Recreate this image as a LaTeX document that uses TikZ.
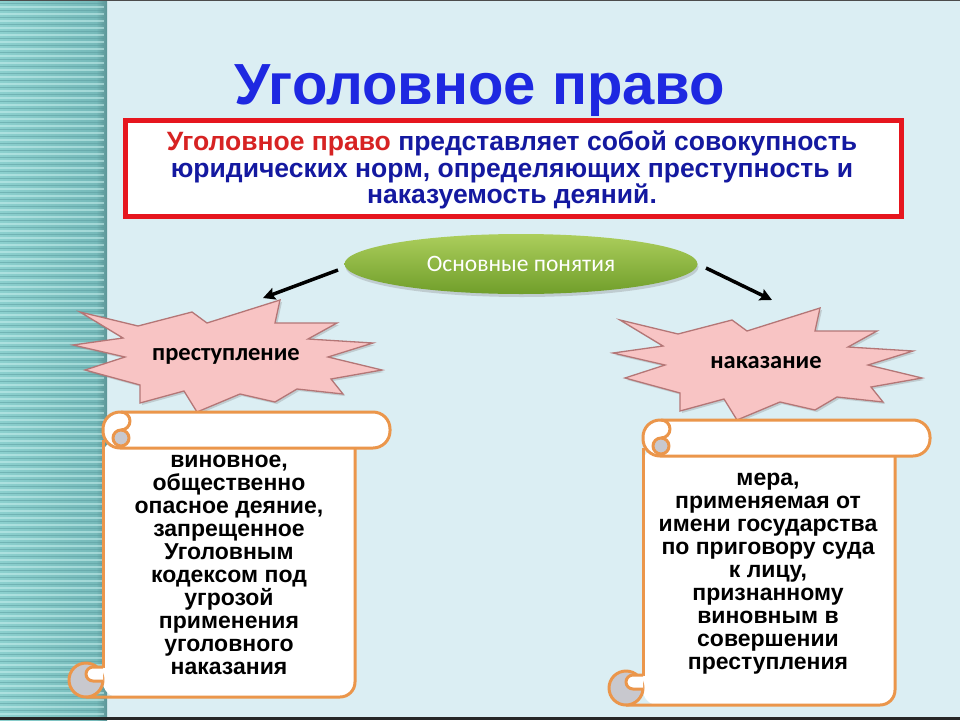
\documentclass[tikz,border=0pt]{standalone}
\usepackage{fontspec}
\setmainfont{Liberation Sans}
\newfontfamily\calfont{Carlito}
\usetikzlibrary{shapes.geometric,arrows.meta,shadows}
\definecolor{bgc}{RGB}{219,238,243}
\definecolor{stripL}{RGB}{140,208,206}
\definecolor{stripR}{RGB}{118,186,186}
\definecolor{stripD}{RGB}{92,148,150}
\definecolor{stripHi}{RGB}{200,240,238}
\definecolor{stripLo}{RGB}{90,155,158}
\definecolor{titleblue}{RGB}{30,40,225}
\definecolor{boxred}{RGB}{230,22,30}
\definecolor{txtred}{RGB}{215,35,35}
\definecolor{txtnavy}{RGB}{20,25,160}
\definecolor{starfill}{RGB}{248,196,196}
\definecolor{starline}{RGB}{180,118,118}
\definecolor{scrollor}{RGB}{235,150,75}
\definecolor{curlgray}{RGB}{200,200,206}
\definecolor{elltop}{RGB}{172,206,92}
\definecolor{ellbot}{RGB}{112,158,42}
\tikzset{
  scrl/.style={draw=scrollor, line width=3pt, line join=round},
  starshape/.style={fill=starfill, draw=starline, line width=1.3pt, line join=miter,
    drop shadow={shadow xshift=2pt, shadow yshift=-2pt, opacity=0.3}},
  arr/.style={line width=3.5pt, -{Stealth[length=12pt,width=12pt,inset=2pt]}},
  scrolltext/.style={align=center, font=\fontsize{23}{23}\bfseries\selectfont},
  startext/.style={font=\calfont\fontsize{24.5}{26}\bfseries\selectfont},
}
\begin{document}
\begin{tikzpicture}[x=1pt,y=1pt]
\useasboundingbox (0,0) rectangle (960,-720);
% background
\fill[bgc] (0,0) rectangle (960,-720);
% left strip
\shade[left color=stripL, right color=stripR] (0,0) rectangle (96,-720);
\shade[left color=stripR, right color=stripD] (96,0) rectangle (107,-720);
\foreach \y in {0,7,...,714} {
  \draw[stripHi, line width=1.3pt, opacity=0.55] (0,-\y) -- (104,-\y);
  \draw[stripLo, line width=0.9pt, opacity=0.5] (0,-\y-3.5) -- (104,-\y-3.5);
}
% frame lines
\fill[black!85] (0,-717) rectangle (960,-720);
\fill[black!70] (0,0) rectangle (960,-1);

% title
\node[text=titleblue, font=\fontsize{58}{62}\bfseries\selectfont] (title) at (480,-91) {Уголовное право};

% definition box
\draw[boxred, line width=5pt, fill=white] (125,-120) rectangle (901,-216);
\node[align=center, text=txtnavy, font=\fontsize{26.5}{26.5}\bfseries\selectfont] (def) at (512,-170)
  {\textcolor{txtred}{Уголовное право} представляет собой совокупность\\
   юридических норм, определяющих преступность и\\
   наказуемость деяний.};

% ellipse
\node[ellipse, minimum width=353pt, minimum height=60pt, inner sep=0pt,
      top color=elltop, bottom color=ellbot,
      drop shadow={shadow xshift=1pt, shadow yshift=-3pt, opacity=0.3},
      text=white, font=\calfont\fontsize{23.5}{26}\selectfont] (main) at (521,-264) {Основные понятия};

% arrows
\coordinate (aL1) at (338,-270);
\coordinate (aL2) at (263,-298);
\coordinate (aR1) at (706,-268);
\coordinate (aR2) at (772,-300);
\draw[arr] (aL1) -- (aL2);
\draw[arr] (aR1) -- (aR2);

% stars
\foreach \dx/\dy in {0/0,540/-8} {
\begin{scope}[shift={(\dx,\dy)}]
\draw[starshape] (80,-312) -- (138,-326) -- (192,-312) -- (207,-323) -- (280,-300) -- (275,-323)
  -- (337,-323) -- (308,-339) -- (373,-343) -- (328,-357) -- (382,-370) -- (331,-379)
  -- (343,-394) -- (297,-389) -- (275,-402) -- (240,-394) -- (197,-412) -- (184,-391)
  -- (140,-403) -- (140,-385) -- (85,-370) -- (125,-357) -- (73,-345) -- (123,-338) -- cycle;
\end{scope}
}
\node[startext] (crime) at (226,-356) {преступление};
\node[startext] (punish) at (766,-363) {наказание};

% scrolls
\foreach \dx/\dy in {0/0,540/-8} {
\begin{scope}[shift={(\dx,\dy)}]
 \fill[white, rounded corners=15] (103,-440) -- (103,-697) -- (355,-697) -- (355,-440) -- cycle;
 \draw[scrl, rounded corners=15] (355,-440) -- (355,-697) -- (86,-697);
 \draw[scrl] (103,-440) -- (103,-668);
 \draw[scrl, fill=white, rounded corners=17] (103,-412) rectangle (390,-448);
 \draw[scrl, fill=curlgray] (121,-438) circle (8);
 \draw[scrl] (121,-412) arc (90:-90:9);
 \draw[scrl, fill=curlgray] (86,-680) circle (17);
 \draw[scrl, fill=white] (103,-667) -- (93,-667) arc (90:270:7) -- (103,-681);
\end{scope}
}
\node[scrolltext] (crimetext) at (229,-564.5)
  {виновное,\\ общественно\\ опасное деяние,\\ запрещенное\\ Уголовным\\ кодексом под\\ угрозой\\ применения\\ уголовного\\ наказания};
\node[scrolltext] (punishtext) at (768,-574)
  {мера,\\ применяемая от\\ имени государства\\ по приговору суда\\ к лицу,\\ признанному\\ виновным в\\ совершении\\ преступления};
\end{tikzpicture}
\end{document}
